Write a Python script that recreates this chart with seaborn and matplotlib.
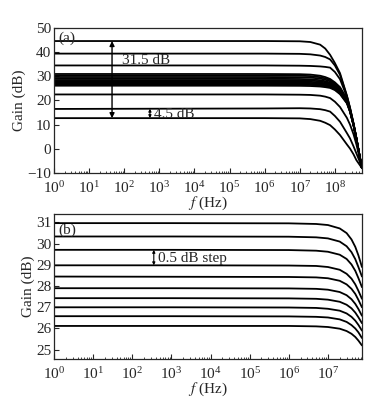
import numpy as np
import pandas as pd
import matplotlib
matplotlib.use("Agg")
import matplotlib.pyplot as plt
import matplotlib.ticker as mticker
import seaborn as sns

sns.set_style("ticks")
plt.rcParams["font.family"] = ["Liberation Serif", "DejaVu Serif"]
plt.rcParams["mathtext.fontset"] = "stix"
plt.rcParams["font.size"] = 11

# ---- panel (a): full gain range ----
freq_a = [1, 1e3, 1e6, 1e7, 2e7, 3.8e7, 5.3e7, 7.3e7, 1e8, 1.4e8, 2.2e8, 2.7e8, 3.4e8, 4.1e8, 5e8, 5.9e8]
gain_a = {
    "g44": [44.6, 44.6, 44.6, 44.5, 44.2, 43.1, 41.5, 38.9, 35.5, 31.3, 22.0, 17.0, 10.5, 4.5, -2.5, -8.0],
    "g39": [39.4, 39.4, 39.4, 39.3, 39.1, 38.6, 38.0, 37.0, 34.5, 30.6, 21.8, 16.8, 10.4, 4.4, -2.5, -8.0],
    "g34": [34.5, 34.5, 34.5, 34.4, 34.3, 34.1, 33.9, 33.6, 31.8, 28.8, 21.5, 16.6, 10.3, 4.4, -2.5, -8.0],
    "b1": [30.97, 30.97, 30.96, 30.88, 30.72, 30.25, 29.7, 28.9, 27.5, 25.5, 20.6, 16.2, 10.1, 4.3, -2.6, -8.0],
    "b2": [30.34, 30.34, 30.33, 30.25, 30.1, 29.65, 29.15, 28.45, 27.1, 25.2, 20.4, 16.1, 10.0, 4.3, -2.6, -8.0],
    "b3": [29.71, 29.71, 29.70, 29.62, 29.48, 29.08, 28.6, 27.95, 26.7, 24.8, 20.2, 16.0, 10.0, 4.2, -2.6, -8.0],
    "b4": [28.98, 28.98, 28.97, 28.9, 28.77, 28.4, 27.98, 27.4, 26.2, 24.4, 20.0, 15.9, 9.9, 4.2, -2.6, -8.0],
    "b5": [28.45, 28.44, 28.43, 28.37, 28.25, 27.91, 27.52, 27.0, 25.85, 24.1, 19.8, 15.8, 9.9, 4.2, -2.6, -8.0],
    "b6": [27.9, 27.9, 27.89, 27.83, 27.72, 27.42, 27.07, 26.6, 25.5, 23.8, 19.6, 15.7, 9.8, 4.1, -2.6, -8.0],
    "b7": [27.43, 27.43, 27.42, 27.36, 27.26, 26.99, 26.68, 26.25, 25.2, 23.5, 19.4, 15.6, 9.8, 4.1, -2.6, -8.0],
    "b8": [27.0, 27.0, 26.99, 26.93, 26.84, 26.59, 26.3, 25.9, 24.9, 23.2, 19.2, 15.5, 9.7, 4.1, -2.7, -8.0],
    "b9": [26.58, 26.58, 26.57, 26.52, 26.43, 26.2, 25.93, 25.55, 24.6, 22.9, 19.0, 15.4, 9.7, 4.0, -2.7, -8.0],
    "b10": [26.12, 26.12, 26.12, 26.07, 25.99, 25.78, 25.53, 25.2, 24.3, 22.6, 18.8, 15.3, 9.6, 4.0, -2.7, -8.0],
    "g22": [22.5, 22.5, 22.5, 22.4, 22.3, 22.0, 21.6, 21.0, 19.5, 17.3, 12.8, 10.0, 6.0, 1.8, -3.4, -8.0],
    "g17": [16.5, 16.6, 16.7, 16.8, 16.7, 16.4, 16.0, 15.4, 13.6, 11.2, 6.5, 4.3, 1.0, -1.9, -5.0, -8.0],
    "g13": [12.7, 12.7, 12.7, 12.6, 12.3, 11.6, 10.8, 9.8, 8.0, 5.7, 1.8, 0.1, -2.3, -4.7, -6.5, -8.0],
}

# ---- panel (b): zoom on the 0.5 dB step curves ----
freq_b = [1, 1e3, 1e6, 5e6, 1e7, 2e7, 3e7, 4e7, 5e7, 6e7, 7.4e7]
gain_b = {
    "c1": [30.97, 30.97, 30.96, 30.93, 30.88, 30.72, 30.5, 30.2, 29.85, 29.45, 28.9],
    "c2": [30.34, 30.34, 30.33, 30.3, 30.25, 30.1, 29.88, 29.6, 29.27, 28.9, 28.45],
    "c3": [29.71, 29.71, 29.70, 29.67, 29.62, 29.48, 29.28, 29.02, 28.72, 28.38, 27.95],
    "c4": [28.98, 28.98, 28.97, 28.95, 28.9, 28.77, 28.58, 28.35, 28.08, 27.78, 27.4],
    "c5": [28.45, 28.44, 28.43, 28.41, 28.37, 28.25, 28.08, 27.87, 27.63, 27.35, 27.0],
    "c6": [27.9, 27.9, 27.89, 27.87, 27.83, 27.72, 27.57, 27.38, 27.16, 26.92, 26.6],
    "c7": [27.43, 27.43, 27.42, 27.4, 27.36, 27.26, 27.12, 26.95, 26.75, 26.53, 26.25],
    "c8": [27.0, 27.0, 26.99, 26.97, 26.93, 26.84, 26.71, 26.55, 26.37, 26.17, 25.9],
    "c9": [26.58, 26.58, 26.57, 26.55, 26.52, 26.43, 26.31, 26.16, 26.0, 25.82, 25.55],
    "c10": [26.12, 26.12, 26.12, 26.1, 26.07, 25.99, 25.88, 25.75, 25.6, 25.43, 25.2],
}


def to_long(freq, gains):
    rows = []
    for name, vals in gains.items():
        for f, g in zip(freq, vals):
            rows.append((name, f, g))
    return pd.DataFrame(rows, columns=["curve", "f", "gain"])


df_a = to_long(freq_a, gain_a)
df_b = to_long(freq_b, gain_b)

fig = plt.figure(figsize=(3.84, 4.01), dpi=100)
ax1 = fig.add_axes([0.1406, 0.5686, 0.802, 0.3616])
ax2 = fig.add_axes([0.1406, 0.1047, 0.802, 0.3616])

for ax, df in [(ax1, df_a), (ax2, df_b)]:
    sns.lineplot(data=df, x="f", y="gain", units="curve", estimator=None,
                 color="black", lw=1.3, sort=True, ax=ax, legend=False)
    ax.set_xscale("log")
    ax.xaxis.set_major_locator(mticker.LogLocator(base=10, numticks=20))
    ax.xaxis.set_minor_locator(mticker.LogLocator(base=10, subs=np.arange(2, 10), numticks=20))
    ax.xaxis.set_minor_formatter(mticker.NullFormatter())
    ax.tick_params(which="both", direction="in", top=False, right=False, labelsize=11)
    ax.tick_params(axis="x", which="major", pad=5)
    ax.tick_params(axis="y", which="major", pad=2)
    ax.tick_params(which="major", length=3.5, width=0.8)
    ax.tick_params(which="minor", length=1.8, width=0.6)
    ax.set_xlabel("$f$ (Hz)", fontsize=11, labelpad=-1)
    ax.set_ylabel("Gain (dB)", fontsize=11, labelpad=1)
    for s in ax.spines.values():
        s.set_linewidth(0.9)

ax1.set_xlim(1, 5.9e8)
ax1.set_ylim(-10, 50)
ax1.set_yticks(range(-10, 51, 10))
ax1.text(1.35, 45.6, "(a)", fontsize=11, va="center")
ax1.annotate("", xy=(45, 12.7), xytext=(45, 44.6),
             arrowprops=dict(arrowstyle="<|-|>", color="black", lw=1.0,
                             mutation_scale=7, shrinkA=0, shrinkB=0))
ax1.text(87, 36.4, "31.5 dB", fontsize=11, va="center")
ax1.annotate("", xy=(540, 12.7), xytext=(540, 16.6),
             arrowprops=dict(arrowstyle="<|-|>", color="black", lw=0.8,
                             mutation_scale=4, shrinkA=0, shrinkB=0))
ax1.text(700, 14.3, "4.5 dB", fontsize=11, va="center")

ax2.set_xlim(1, 7.4e7)
ax2.set_ylim(24.56, 31.4)
ax2.set_yticks(range(25, 32))
ax2.text(1.27, 30.65, "(b)", fontsize=11, va="center")
ax2.annotate("", xy=(355, 28.98), xytext=(355, 29.71),
             arrowprops=dict(arrowstyle="<|-|>", color="black", lw=0.8,
                             mutation_scale=4, shrinkA=0, shrinkB=0))
ax2.text(460, 29.32, "0.5 dB step", fontsize=11, va="center")

fig.savefig("out.png", dpi=100)
